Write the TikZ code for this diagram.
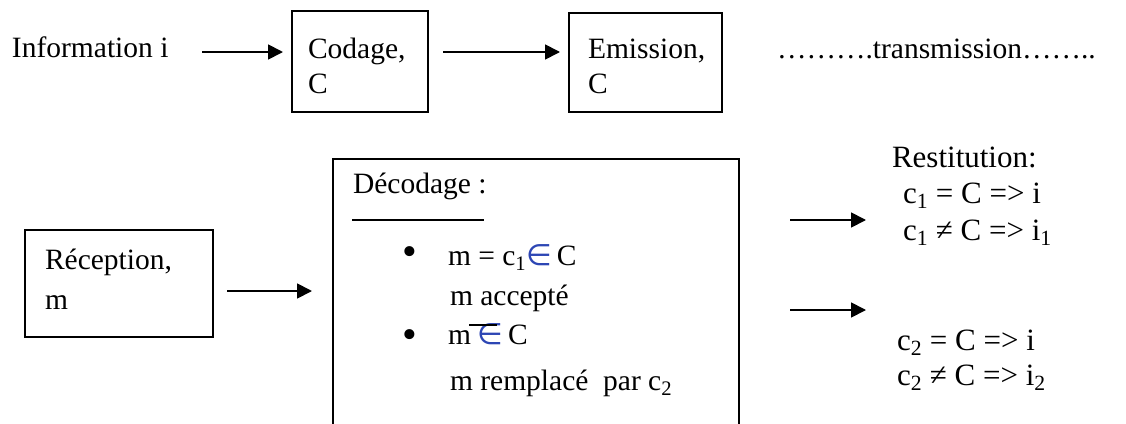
\documentclass[tikz,border=0pt]{standalone}
\usepackage{fontspec}
\setmainfont{Liberation Serif}
\newfontfamily\symfont{DejaVu Sans}
\usetikzlibrary{arrows.meta}
\definecolor{eltblue}{RGB}{45,70,180}
\newcommand{\eltsign}{{\symfont\color{eltblue}∈}}
\begin{document}
\begin{tikzpicture}[x=1pt,y=-1pt,
  every node/.style={inner sep=0pt, outer sep=0pt, anchor=base west,
    font=\fontsize{29.5}{35}\selectfont},
  big/.style={font=\fontsize{31}{37}\selectfont},
  bullet/.style={anchor=center, font=\fontsize{42}{42}\selectfont},
  box/.style={draw, line width=1.2pt, rectangle, anchor=north west},
  arr/.style={-{Triangle[length=15pt,width=15pt]}, line width=1.8pt}]
\useasboundingbox (0,0) rectangle (1126,423);
\clip (0,0) rectangle (1126,423);

% --- upper chain: information, coding, emission
\node (info) at (12,57) {Information i};
\node[box, minimum width=136pt, minimum height=101pt] (cod) at (292,11) {};
\node (codA) at (308,58) {Codage,};
\node (codB) at (308,93) {C};
\node[box, minimum width=153pt, minimum height=99pt] (emi) at (569,13) {};
\node (emiA) at (588,58) {Emission,};
\node (emiB) at (588,93) {C};
\node (trans) at (777,58) {……….transmission……..};

\coordinate (a1s) at (202,52); \coordinate (a1e) at (283,52);
\coordinate (a2s) at (443,52); \coordinate (a2e) at (560,52);
\draw[arr] (a1s) -- (a1e);
\draw[arr] (a2s) -- (a2e);

% --- reception
\node[box, minimum width=188pt, minimum height=107pt] (rec) at (25,230) {};
\node (recA) at (45,269) {Réception,};
\node (recB) at (45,309) {m};

% --- decoding
\node[box, minimum width=406pt, minimum height=300pt] (dec) at (333,159) {};
\node (decT) at (353,193) {Décodage :};
\draw[line width=1.3pt] (352,220) -- (484,220);
\node[bullet] (b1) at (410,256) {•};
\node (l1) at (448,265) {m = c\textsubscript{1}\eltsign\,C};
\node (l2) at (450,305) {m accepté};
\node[bullet] (b2) at (410,339) {•};
\node (l3m) at (448,344) {m};
\node (l3e) at (477,344) {\eltsign};
\node (l3c) at (508,344) {C};
\draw[line width=1.2pt] (469,325) -- (497,325);
\node (l4) at (450,390) {m remplacé \ par c\textsubscript{2}};

\coordinate (a3s) at (227,291); \coordinate (a3e) at (312,291);
\draw[arr] (a3s) -- (a3e);

% --- restitution
\node[big] (rest) at (892,167) {Restitution:};
\node[big] (r1) at (903,203) {c\textsubscript{1} = C => i};
\node[big] (r2) at (903,240) {c\textsubscript{1} ≠ C => i\textsubscript{1}};
\node[big] (r3) at (897,350) {c\textsubscript{2} = C => i};
\node[big] (r4) at (897,385) {c\textsubscript{2} ≠ C => i\textsubscript{2}};

\coordinate (a4s) at (790,220); \coordinate (a4e) at (866,220);
\coordinate (a5s) at (790,310); \coordinate (a5e) at (866,310);
\draw[arr] (a4s) -- (a4e);
\draw[arr] (a5s) -- (a5e);
\end{tikzpicture}
\end{document}
